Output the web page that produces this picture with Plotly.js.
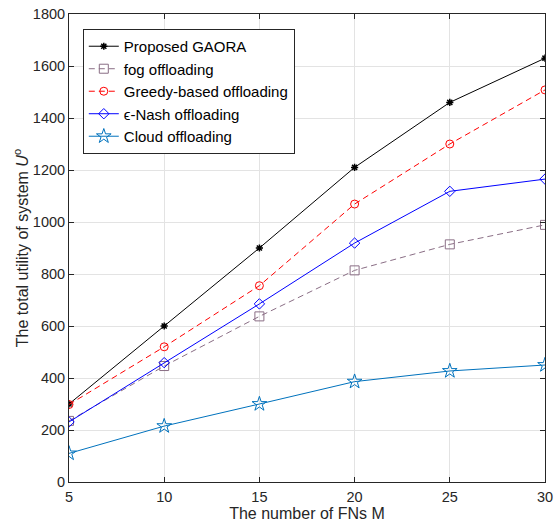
<!DOCTYPE html>
<html><head><meta charset="utf-8">
<script src="https://cdn.plot.ly/plotly-3.0.1.min.js"></script>
<style>html,body{margin:0;padding:0;background:#fff;}#plot{width:556px;height:523px;}</style>
</head><body><div id="plot"></div>
<script>
const M = [5, 10, 15, 20, 25, 30];
const gaora = [300, 600, 900, 1210, 1460, 1630];
const fog = [235, 446, 637, 814, 914, 989];
const greedy = [298, 520, 755, 1069, 1300, 1508];
const nash = [231, 459, 685, 919, 1118, 1165];
const cloud = [110, 215, 300, 386, 427, 450];
const names = ['Proposed GAORA', 'fog offloading', 'Greedy-based offloading', '\u03f5-Nash offloading', 'Cloud offloading'];

const traces = [
  {x: M, y: gaora, name: names[0], mode: 'lines+markers', line: {color: '#000000', width: 1}, marker: {symbol: 'asterisk-open', size: 6, color: '#000000', line: {color: '#000000', width: 1.5}}},
  {x: M, y: fog, name: names[1], mode: 'lines+markers', line: {color: '#8a6e85', width: 1, dash: '6px,4px'}, marker: {symbol: 'square-open', size: 9, color: '#8a6e85', line: {width: 1}}},
  {x: M, y: greedy, name: names[2], mode: 'lines+markers', line: {color: '#ff0000', width: 1, dash: '6px,4px'}, marker: {symbol: 'circle-open', size: 8, color: '#ff0000', line: {width: 1}}},
  {x: M, y: nash, name: names[3], mode: 'lines+markers', line: {color: '#0000ff', width: 1}, marker: {symbol: 'diamond-open', size: 8, color: '#0000ff', line: {width: 1}}},
  {x: M, y: cloud, name: names[4], mode: 'lines+markers', line: {color: '#0072BD', width: 1}, marker: {symbol: 'star-open', size: 11, color: '#0072BD', line: {width: 1}}}
];

const FONT = 'Liberation Sans, Arial, sans-serif';
const axisCommon = {
  showline: true, linecolor: '#262626', linewidth: 1, mirror: 'ticks',
  ticks: 'inside', ticklen: 5, tickcolor: '#262626',
  showgrid: true, gridcolor: '#e3e3e3', gridwidth: 1, zeroline: false,
  tickfont: {family: FONT, size: 14.5, color: '#262626'}
};

const layout = {
  width: 556, height: 523,
  margin: {l: 69, r: 11, t: 14, b: 41},
  paper_bgcolor: '#ffffff', plot_bgcolor: '#ffffff',
  showlegend: true,
  legend: {x: 0.029, y: 0.968, xanchor: 'left', yanchor: 'top', bgcolor: '#ffffff', bordercolor: '#262626', borderwidth: 1,
    font: {family: FONT, size: 15, color: '#000000'}, tracegroupgap: 0, itemwidth: 30},
  xaxis: Object.assign({}, axisCommon, {range: [5, 30], tickvals: M, ticktext: M.map(String), ticklabelstandoff: 2,
    title: {text: 'The number of FNs M', font: {family: FONT, size: 16, color: '#262626'}, standoff: 3}}),
  yaxis: Object.assign({}, axisCommon, {range: [0, 1800], dtick: 200,
    title: {text: 'The total utility of system <i>U</i><sup>o</sup>', font: {family: FONT, size: 16, color: '#262626'}, standoff: 0}})
};

Plotly.newPlot('plot', traces, layout, {displayModeBar: false, staticPlot: true});
</script></body></html>
